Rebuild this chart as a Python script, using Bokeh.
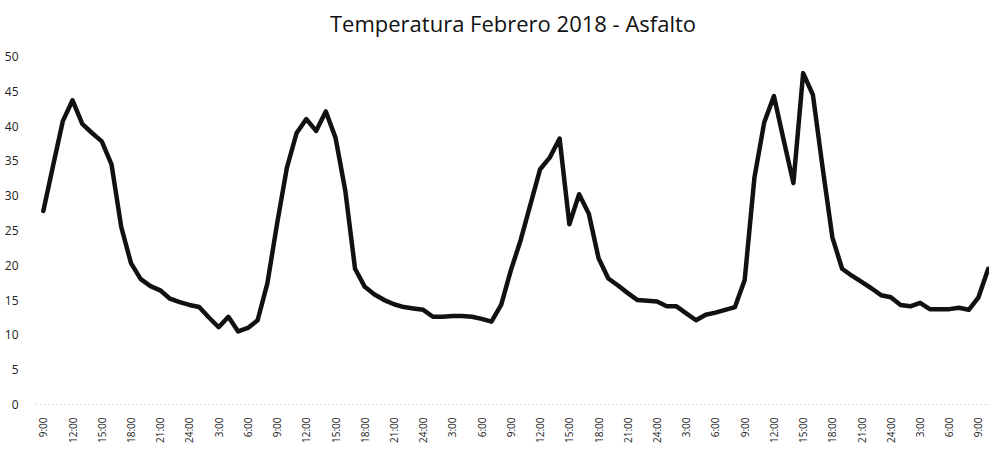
import math
from bokeh.plotting import figure
from bokeh.models import Range1d, FixedTicker, ColumnDataSource
from bokeh.embed import file_html
from bokeh.resources import INLINE

# Hourly temperature readings (asphalt), starting 9:00
temps = [
    27.8, 34.3, 40.7, 43.7, 40.3, 39.0, 37.8, 34.5, 25.5, 20.3,
    18.0, 17.0, 16.4, 15.2, 14.7, 14.3, 14.0, 12.5, 11.1, 12.6,
    10.5, 11.0, 12.1, 17.4, 26.0, 34.0, 39.0, 41.0, 39.3, 42.1,
    38.3, 30.7, 19.5, 16.9, 15.8, 15.0, 14.4, 14.0, 13.8, 13.6,
    12.6, 12.6, 12.7, 12.7, 12.6, 12.3, 11.9, 14.3, 19.3, 23.6,
    28.7, 33.8, 35.5, 38.2, 25.9, 30.2, 27.4, 21.0, 18.1, 17.1,
    16.0, 15.0, 14.9, 14.8, 14.1, 14.1, 13.1, 12.1, 12.9, 13.2,
    13.6, 14.0, 17.9, 32.6, 40.5, 44.3, 38.0, 31.8, 47.6, 44.5,
    34.0, 24.0, 19.5, 18.5, 17.6, 16.7, 15.7, 15.4, 14.3, 14.1,
    14.6, 13.7, 13.7, 13.7, 13.9, 13.6, 15.4, 19.5,
]
x_index = list(range(len(temps)))

tick_labels = [
    "9:00", "12:00", "15:00", "18:00", "21:00", "24:00", "3:00", "6:00",
    "9:00", "12:00", "15:00", "18:00", "21:00", "24:00", "3:00", "6:00",
    "9:00", "12:00", "15:00", "18:00", "21:00", "24:00", "3:00", "6:00",
    "9:00", "12:00", "15:00", "18:00", "21:00", "24:00", "3:00", "6:00",
    "9:00",
]
tick_positions = list(range(0, 3 * len(tick_labels), 3))
y_ticks = [0, 5, 10, 15, 20, 25, 30, 35, 40, 45, 50]

source = ColumnDataSource(data=dict(x=x_index, t=temps))

p = figure(
    width=989, height=446,
    output_backend="svg", toolbar_location=None,
    x_range=Range1d(-0.7, 97.13), y_range=Range1d(0, 52.0),
    min_border_left=36, min_border_right=0,
    min_border_top=40, min_border_bottom=42,
)
p.background_fill_color = "white"
p.border_fill_color = "white"
p.outline_line_color = None
p.xgrid.visible = False
p.ygrid.visible = False

p.title.text = "Temperatura Febrero 2018 - Asfalto"
p.title.align = "center"
p.title.text_font = "Open Sans"
p.title.text_font_size = "22px"
p.title.text_font_style = "normal"
p.title.text_color = "#111111"
p.title.standoff = 10

p.line("x", "t", source=source, line_width=4.5, line_color="#111111",
       line_join="round", line_cap="round")

yax = p.yaxis[0]
yax.ticker = FixedTicker(ticks=y_ticks)
yax.axis_line_color = None
yax.major_tick_line_color = None
yax.minor_tick_line_color = None
yax.major_label_text_font = "Open Sans"
yax.major_label_text_font_size = "12px"
yax.major_label_text_color = "#222222"
yax.major_label_standoff = 12

xax = p.xaxis[0]
xax.ticker = FixedTicker(ticks=tick_positions)
xax.major_label_overrides = {pos: lab for pos, lab in zip(tick_positions, tick_labels)}
xax.major_label_orientation = math.pi / 2
xax.axis_line_color = "#bbbbbb"
xax.axis_line_dash = "1 3"
xax.major_tick_line_color = None
xax.minor_tick_line_color = None
xax.major_label_text_font = "Open Sans"
xax.major_label_text_font_size = "10px"
xax.major_label_text_color = "#222222"
xax.major_label_standoff = 7

open("out.html", "w").write(file_html(p, INLINE))
